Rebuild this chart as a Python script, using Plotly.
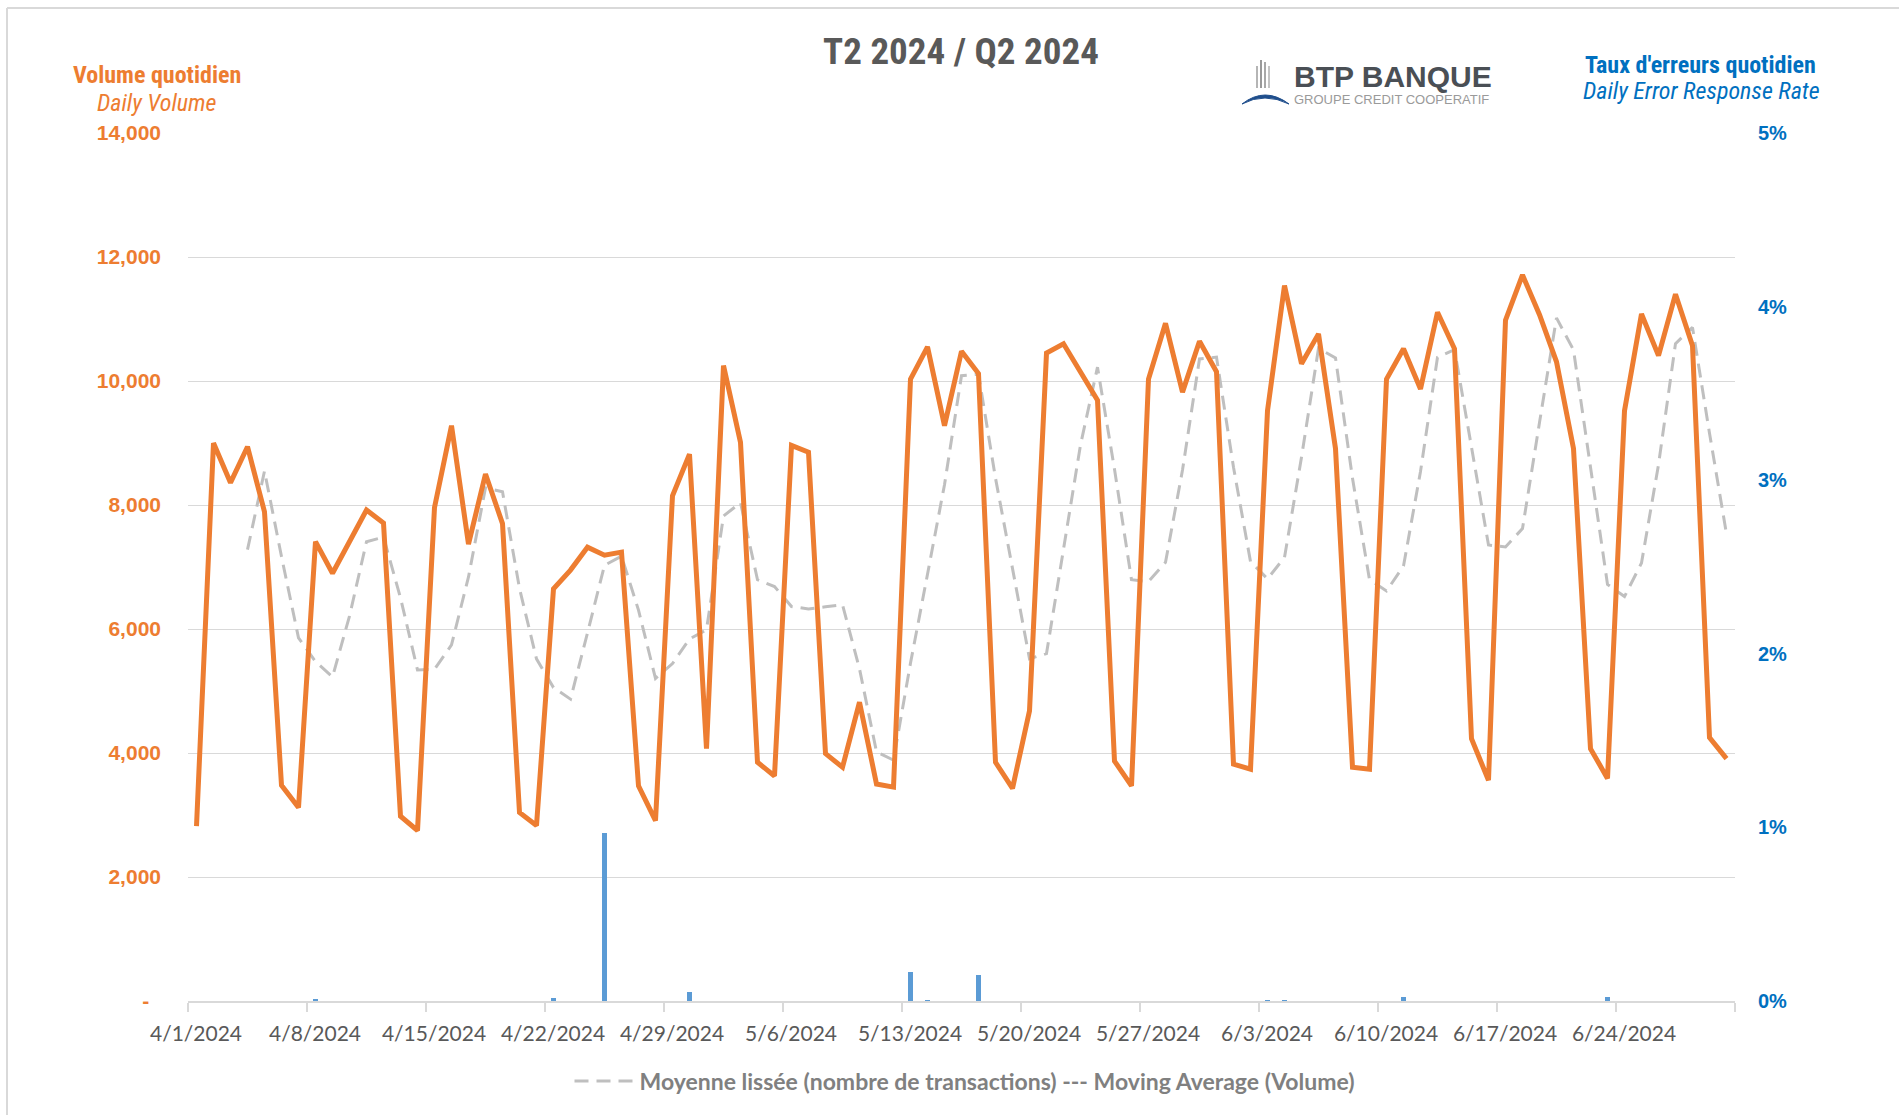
import pandas as pd
import plotly.graph_objects as go

# ---------------- data ----------------
start_date = "2024-04-01"
n_days = 91

daily_volume = [
    2820, 9000, 8360, 8940, 7890, 3480, 3120,
    7410, 6900, 7400, 7920, 7710, 2980, 2750,
    7960, 9280, 7370, 8500, 7700, 3040, 2830,
    6650, 6950, 7320, 7190, 7240, 3470, 2910,
    8150, 8820, 4070, 10250, 9010, 3850, 3630,
    8960, 8850, 3990, 3770, 4820, 3500, 3450,
    10030, 10550, 9280, 10480, 10120, 3850, 3430,
    4680, 10450, 10600, 10150, 9690, 3870, 3470,
    10030, 10930, 9820, 10640, 10150, 3820, 3740,
    9520, 11540, 10280, 10760, 8910, 3770, 3740,
    10030, 10520, 9870, 11110, 10520, 4230, 3560,
    10980, 11710, 11070, 10310, 8910, 4070, 3590,
    9520, 11080, 10410, 11400, 10570, 4250, 3910,
]

# smoothed curve starts on the 4th day (4/4/2024)
moving_avg_first_day = 3
moving_avg = [
    7280, 8548, 7168, 5858, 5475, 5228, 6208, 7408, 7483, 6503, 5340,
    5350, 5743, 6840, 8278, 8213, 6653, 5518, 5055, 4868, 5938, 7028,
    7175, 6305, 5203, 5443, 5838, 5988, 7823, 8038, 6795, 6685, 6363,
    6323, 6358, 6393, 5358, 4020, 3885, 5450, 6883, 8328, 10085, 10108,
    8433, 6970, 5520, 5603, 7290, 8970, 10223, 8578, 6795, 6765, 7075,
    8563, 10355, 10385, 8608, 7088, 6808, 7155, 8770, 10525, 10373, 8430,
    6795, 6613, 7015, 8540, 10383, 10505, 8933, 7355, 7323, 7620, 9330,
    11018, 10500, 8590, 6720, 6523, 7065, 8650, 10603, 10865, 9158, 7533,
]

error_dates = ["2024-04-08", "2024-04-22", "2024-04-25", "2024-04-30",
               "2024-05-13", "2024-05-14", "2024-05-17", "2024-06-03",
               "2024-06-04", "2024-06-11", "2024-06-23"]
error_rates = [0.00013, 0.00015, 0.0097, 0.0005,
               0.00165, 0.00005, 0.0015, 0.00005,
               0.00005, 0.00025, 0.00025]

week_ticks = ["2024-04-01", "2024-04-08", "2024-04-15", "2024-04-22",
              "2024-04-29", "2024-05-06", "2024-05-13", "2024-05-20",
              "2024-05-27", "2024-06-03", "2024-06-10", "2024-06-17",
              "2024-06-24", "2024-07-01"]
week_labels = ["4/1/2024", "4/8/2024", "4/15/2024", "4/22/2024",
               "4/29/2024", "5/6/2024", "5/13/2024", "5/20/2024",
               "5/27/2024", "6/3/2024", "6/10/2024", "6/17/2024",
               "6/24/2024", ""]

vol_ticks = [0, 2000, 4000, 6000, 8000, 10000, 12000, 14000]
vol_labels = ["-\u00a0\u00a0", "2,000", "4,000", "6,000", "8,000", "10,000",
              "12,000", "14,000"]
rate_ticks = [0, 0.01, 0.02, 0.03, 0.04, 0.05]
rate_labels = ["0%", "1%", "2%", "3%", "4%", "5%"]

title_text = "T2 2024 / Q2 2024"
legend_label = "Moyenne lissée (nombre de transactions) --- Moving Average (Volume)"

# ---------------- styling ----------------
W, H = 1899, 1115
PL, PR, PT, PB = 188, 1735, 133, 1001  # plot area in pixels

ORANGE = "#ED7D31"
BLUE_BAR = "#5B9BD5"
BLUE_TXT = "#0070C0"
GRID = "#D9D9D9"
NARROW = "Liberation Sans Narrow, Arial Narrow, Roboto Condensed, Liberation Sans, sans-serif"
ARIAL = "Liberation Sans, Arial, sans-serif"
CALIBRI = "Lato, Carlito, Calibri, sans-serif"


def px_x(px):
    return (px - PL) / (PR - PL)


def px_y(py):
    return (PB - py) / (PB - PT)


half_day = pd.Timedelta(hours=12)
dates = pd.date_range(start_date, periods=n_days, freq="D")
x_mid = dates + half_day
bar_x = [pd.Timestamp(d) + half_day for d in error_dates]

fig = go.Figure()

fig.add_trace(go.Bar(
    x=bar_x, y=error_rates, yaxis="y2",
    marker=dict(color=BLUE_BAR, line=dict(width=0)),
    width=0.3 * 86400000, showlegend=False, name="Daily Error Response Rate",
))
fig.add_trace(go.Scatter(
    x=x_mid[moving_avg_first_day:], y=moving_avg, mode="lines",
    line=dict(color="#BFBFBF", width=3, dash="14px,8px"),
    name=legend_label, showlegend=True,
))
fig.add_trace(go.Scatter(
    x=x_mid, y=daily_volume, mode="lines",
    line=dict(color=ORANGE, width=5),
    name="Daily Volume", showlegend=False,
))

fig.update_layout(
    width=W, height=H,
    margin=dict(l=PL, r=W - PR, t=PT, b=H - PB, pad=0),
    paper_bgcolor="white", plot_bgcolor="white",
    title=dict(text=title_text, x=961 / W, xanchor="center", xref="container",
               y=1 - 51 / H, yanchor="middle", yref="container",
               font=dict(family=NARROW, size=37, color="#595959", weight="bold")),
    xaxis=dict(
        type="date", range=[dates[0], dates[-1] + pd.Timedelta(days=1)],
        tickmode="array", tickvals=week_ticks, ticktext=week_labels,
        ticks="outside", ticklen=9, tickwidth=1.5, tickcolor=GRID,
        showline=True, linecolor=GRID, linewidth=1.5,
        showgrid=False, zeroline=False,
        ticklabelshift=8, ticklabelstandoff=4,
        tickfont=dict(family=CALIBRI, size=21, color="#595959"),
    ),
    yaxis=dict(
        range=[0, 14000], tickmode="array", tickvals=vol_ticks, ticktext=vol_labels,
        showgrid=True, gridcolor=GRID, gridwidth=1.3, zeroline=False,
        showline=False, ticks="", ticklabelstandoff=26,
        tickfont=dict(family=ARIAL, size=21, color=ORANGE, weight="bold"),
    ),
    yaxis2=dict(
        range=[0, 0.05], overlaying="y", side="right",
        tickmode="array", tickvals=rate_ticks, ticktext=rate_labels,
        showgrid=False, zeroline=False, showline=False, ticks="",
        ticklabelstandoff=22,
        tickfont=dict(family=ARIAL, size=20, color=BLUE_TXT, weight="bold"),
    ),
    legend=dict(
        orientation="h", x=px_x(965), xanchor="center", y=px_y(1081), yanchor="middle",
        font=dict(family=CALIBRI, size=23, color="#808080", weight="bold"),
        bgcolor="rgba(0,0,0,0)", itemwidth=60,
    ),
    bargap=0,
)

annotations = [
    dict(text="Volume quotidien", x=px_x(157), y=px_y(75),
         font=dict(family=NARROW, size=24, color=ORANGE, weight="bold")),
    dict(text="<i>Daily Volume</i>", x=px_x(157), y=px_y(103),
         font=dict(family=NARROW, size=24, color=ORANGE)),
    dict(text="Taux d'erreurs quotidien", x=px_x(1700), y=px_y(65),
         font=dict(family=NARROW, size=24, color=BLUE_TXT, weight="bold")),
    dict(text="<i>Daily Error Response Rate</i>", x=px_x(1701), y=px_y(91),
         font=dict(family=NARROW, size=24, color=BLUE_TXT)),
    dict(text="BTP BANQUE", x=px_x(1393), y=px_y(76),
         font=dict(family=ARIAL, size=30, color="#4A4F55", weight="bold")),
    dict(text="GROUPE CREDIT COOPERATIF", x=px_x(1391), y=px_y(100),
         font=dict(family=ARIAL, size=13, color="#9A9A9A")),
]
for a in annotations:
    a.update(xref="paper", yref="paper", xanchor="center", yanchor="middle",
             showarrow=False)
fig.update_layout(annotations=annotations)

shapes = []
# outer frame (top and left edges visible)
shapes.append(dict(type="line", xref="paper", yref="paper",
                   x0=px_x(7), x1=px_x(W + 10), y0=px_y(8), y1=px_y(8),
                   line=dict(color=GRID, width=2)))
shapes.append(dict(type="line", xref="paper", yref="paper",
                   x0=px_x(7), x1=px_x(7), y0=px_y(8), y1=px_y(H + 10),
                   line=dict(color=GRID, width=2)))
# logo: grey pillars
for lx, top, col in [(1257, 66, "#B5B5B5"), (1261, 60, "#9A9A9A"),
                     (1265, 62, "#A8A8A8"), (1269, 66, "#C4C4C4")]:
    shapes.append(dict(type="line", xref="paper", yref="paper",
                       x0=px_x(lx), x1=px_x(lx), y0=px_y(top), y1=px_y(88),
                       line=dict(color=col, width=2)))
# logo: blue arch
path = "M {},{} Q {},{} {},{} Q {},{} {},{} Q {},{} {},{} Z".format(
    px_x(1242), px_y(104),
    px_x(1265), px_y(86), px_x(1289), px_y(104),
    px_x(1277), px_y(98), px_x(1265), px_y(98),
    px_x(1253), px_y(98), px_x(1242), px_y(104))
shapes.append(dict(type="path", xref="paper", yref="paper", path=path,
                   fillcolor="#1F4E8C", line=dict(color="#1F4E8C", width=1)))
fig.update_layout(shapes=shapes)

fig.write_html("out.html",
               config={"displayModeBar": False},
               post_script="document.body.style.margin='0';document.body.style.overflow='hidden';")
